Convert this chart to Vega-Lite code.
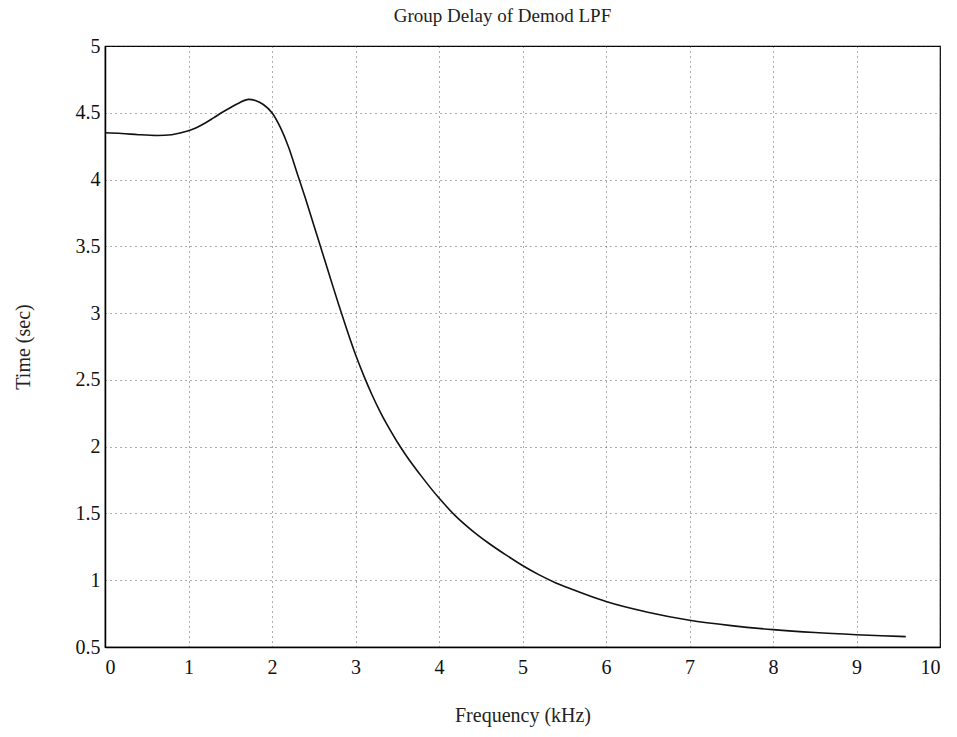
{
  "$schema": "https://vega.github.io/schema/vega-lite/v6.json",
  "width": 835,
  "height": 601,
  "autosize": {"type": "none"},
  "padding": {"left": 105, "top": 46, "right": 17, "bottom": 90},
  "background": "white",
  "title": {
    "text": "Group Delay of Demod LPF",
    "font": "Liberation Serif",
    "fontSize": 19,
    "fontWeight": "normal",
    "color": "#222",
    "offset": 10,
    "dx": -20
  },
  "config": {
    "view": {"stroke": "black", "strokeWidth": 1.2},
    "axis": {
      "labelFont": "Liberation Serif",
      "titleFont": "Liberation Serif",
      "labelColor": "#111",
      "titleColor": "#222",
      "titleFontWeight": "normal",
      "domainColor": "black",
      "domainWidth": 1.5,
      "ticks": false,
      "grid": true,
      "gridColor": "#333",
      "gridDash": [1, 4],
      "gridWidth": 1,
      "gridOpacity": 0.8
    }
  },
  "data": {
    "values": [
      {"f": 0.0, "t": 4.35},
      {"f": 0.2, "t": 4.345},
      {"f": 0.4, "t": 4.336},
      {"f": 0.63, "t": 4.33},
      {"f": 0.8, "t": 4.336},
      {"f": 0.9, "t": 4.348},
      {"f": 1.0, "t": 4.365},
      {"f": 1.1, "t": 4.39},
      {"f": 1.2, "t": 4.423},
      {"f": 1.3, "t": 4.462},
      {"f": 1.4, "t": 4.502},
      {"f": 1.5, "t": 4.538},
      {"f": 1.6, "t": 4.572},
      {"f": 1.72, "t": 4.6},
      {"f": 1.8, "t": 4.592},
      {"f": 1.9, "t": 4.56},
      {"f": 2.0, "t": 4.5},
      {"f": 2.1, "t": 4.39},
      {"f": 2.2, "t": 4.24},
      {"f": 2.3, "t": 4.05},
      {"f": 2.4, "t": 3.86},
      {"f": 2.5, "t": 3.66},
      {"f": 2.6, "t": 3.46},
      {"f": 2.7, "t": 3.26},
      {"f": 2.8, "t": 3.06},
      {"f": 2.9, "t": 2.87},
      {"f": 3.0, "t": 2.69},
      {"f": 3.1, "t": 2.53},
      {"f": 3.2, "t": 2.385},
      {"f": 3.3, "t": 2.255},
      {"f": 3.4, "t": 2.14},
      {"f": 3.5, "t": 2.035},
      {"f": 3.6, "t": 1.94},
      {"f": 3.8, "t": 1.77},
      {"f": 4.0, "t": 1.615},
      {"f": 4.2, "t": 1.48},
      {"f": 4.4, "t": 1.37},
      {"f": 4.6, "t": 1.275},
      {"f": 4.8, "t": 1.19},
      {"f": 5.0, "t": 1.11},
      {"f": 5.2, "t": 1.04},
      {"f": 5.4, "t": 0.98},
      {"f": 5.6, "t": 0.93},
      {"f": 5.8, "t": 0.883},
      {"f": 6.0, "t": 0.84},
      {"f": 6.5, "t": 0.76},
      {"f": 7.0, "t": 0.7},
      {"f": 7.5, "t": 0.66},
      {"f": 8.0, "t": 0.63},
      {"f": 8.5, "t": 0.608},
      {"f": 9.0, "t": 0.592},
      {"f": 9.3, "t": 0.584},
      {"f": 9.59, "t": 0.578}
    ]
  },
  "mark": {"type": "line", "color": "#111", "strokeWidth": 1.6, "interpolate": "monotone"},
  "encoding": {
    "x": {
      "field": "f",
      "type": "quantitative",
      "scale": {"domain": [0, 10], "nice": false},
      "axis": {
        "title": "Frequency (kHz)",
        "titleFontSize": 20,
        "titlePadding": 28,
        "labelFontSize": 20,
        "labelPadding": 10,
        "values": [0, 1, 2, 3, 4, 5, 6, 7, 8, 9, 10],
        "labelExpr": "datum.value"
      }
    },
    "y": {
      "field": "t",
      "type": "quantitative",
      "scale": {"domain": [0.5, 5], "nice": false, "zero": false},
      "axis": {
        "title": "Time (sec)",
        "titleFontSize": 20,
        "titlePadding": 42,
        "labelFontSize": 20,
        "labelPadding": 5,
        "values": [0.5, 1, 1.5, 2, 2.5, 3, 3.5, 4, 4.5, 5],
        "labelExpr": "datum.value"
      }
    }
  }
}
